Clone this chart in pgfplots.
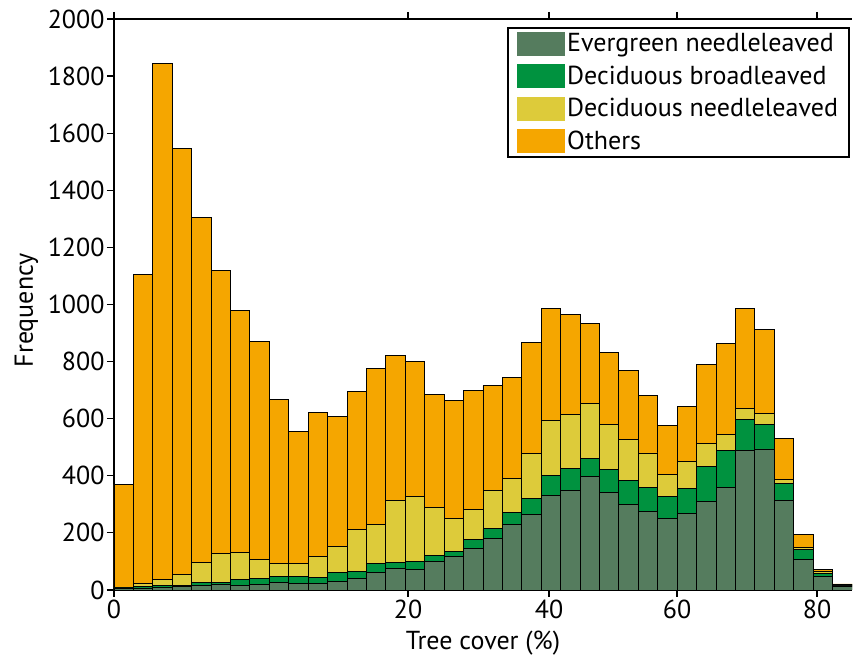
\documentclass[border=0pt]{standalone}
\usepackage{pgfplots}
\pgfplotsset{compat=1.18}
\usepackage{pgfplotstable}
\usepackage{fontspec}
\setmainfont{PT Sans}
\definecolor{en}{RGB}{85,124,94}
\definecolor{db}{RGB}{0,146,63}
\definecolor{dn}{RGB}{221,203,58}
\definecolor{ot}{RGB}{245,166,0}
\pgfplotstableread{
x EN DB DN OT
0.5 5 2 3 360
1.5 7 5 10 1083
2.5 9 7 21 1808
3.5 13 3 40 1489
4.5 16 10 72 1207
5.5 20 7 100 993
6.5 17 19 96 848
7.5 18 22 67 763
8.5 27 20 46 574
9.5 24 24 44 464
10.5 23 20 75 503
11.5 30 32 92 453
12.5 41 25 147 484
13.5 62 32 137 546
14.5 77 21 216 506
15.5 73 28 227 471
16.5 101 20 169 394
17.5 117 19 114 413
18.5 146 30 105 417
19.5 182 32 134 368
20.5 230 43 119 353
21.5 263 56 158 390
22.5 331 69 194 391
23.5 348 76 191 351
24.5 398 64 191 279
25.5 340 81 160 250
26.5 298 84 146 240
27.5 275 85 120 200
28.5 249 78 76 172
29.5 269 85 96 192
30.5 311 122 80 276
31.5 359 130 57 317
32.5 490 107 40 349
33.5 494 87 38 294
34.5 315 58 15 144
35.5 106 35 8 46
36.5 47 11 7 6
37.5 14 2 2 3
}\data
\begin{document}
\begin{tikzpicture}
\useasboundingbox (0,0) rectangle (855pt,658pt);
\begin{axis}[
  at={(114pt,68pt)}, anchor=south west,
  scale only axis, width=738pt, height=571pt,
  xmin=0, xmax=38, ymin=0, ymax=2000,
  ybar stacked, bar width=1,
  axis x line=box, axis y line=left,
  axis line style={-, line width=1.6pt},
  tick align=outside, major tick length=7pt,
  tick style={line width=1.2pt, black},
  ytick={0,200,...,2000},
  xtick={0,15.14,22.40,28.99,36.2},
  xticklabels={0,20,40,60,80},
  ticklabel style={font=\fontsize{26}{28}\selectfont},
  yticklabel style={xshift=1pt},
  xticklabel style={yshift=1pt},
  /pgf/number format/assume math mode=true,
  yticklabel style={/pgf/number format/1000 sep={}},
  xlabel={Tree cover (\%)}, ylabel={Frequency},
  label style={font=\fontsize{26}{28}\selectfont},
  xlabel style={at={(axis description cs:0.5,0)}, anchor=base, yshift=-60pt},
  ylabel style={at={(axis description cs:-0.1098,0.49)}, rotate=0, anchor=base},
  legend cell align=left,
  legend style={at={(0.997,0.986)}, anchor=north east, draw=black, line width=1.6pt,
    font=\fontsize{26}{28}\selectfont, inner xsep=9pt, inner ysep=4pt, row sep=8.5pt,
    nodes={inner ysep=0pt, inner xsep=2pt}, column sep=0pt},
  legend image code/.code={\fill[#1, draw=none] (0pt,-12.5pt) rectangle (48pt,11.5pt);},
  every axis plot/.append style={draw=black, line width=0.9pt},
]
\addplot[fill=en] table[x=x, y=EN] {\data};
\addplot[fill=db] table[x=x, y=DB] {\data};
\addplot[fill=dn] table[x=x, y=DN] {\data};
\addplot[fill=ot] table[x=x, y=OT] {\data};
\legend{Evergreen needleleaved, Deciduous broadleaved, Deciduous needleleaved, Others}
\end{axis}
\end{tikzpicture}
\end{document}
